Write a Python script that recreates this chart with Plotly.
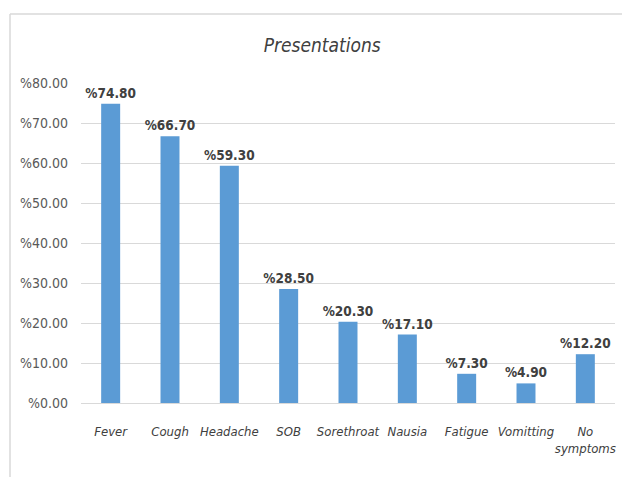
import plotly.graph_objects as go

categories = ["Fever", "Cough", "Headache", "SOB", "Sorethroat", "Nausia",
              "Fatigue", "Vomitting", "No<br>symptoms"]
values = [74.8, 66.7, 59.3, 28.5, 20.3, 17.1, 7.3, 4.9, 12.2]
tick_values = [0, 10, 20, 30, 40, 50, 60, 70, 80]

W, H = 622, 477
L, R, T, B = 81, 7, 83, 74
FONT = "DejaVu Sans Condensed, Liberation Sans Narrow, sans-serif"

fig = go.Figure(go.Bar(
    x=categories,
    y=values,
    marker=dict(color="#5B9BD5", line=dict(width=0)),
    text=[f"<b>%{v:.2f}</b>" for v in values],
    textposition="outside",
    constraintext="none",
    cliponaxis=False,
    textfont=dict(family=FONT, size=13.5, color="#404040"),
))

# outer chart frame (left and top edges visible)
pw = W - L - R
ph = H - T - B
x0 = (10 - L) / pw
y1 = 1 + (T - 14) / ph
fig.add_shape(type="line", xref="paper", yref="paper", x0=x0, x1=x0, y0=-2, y1=y1,
              line=dict(color="#d9d9d9", width=1.5))
fig.add_shape(type="line", xref="paper", yref="paper", x0=x0, x1=2, y0=y1, y1=y1,
              line=dict(color="#d9d9d9", width=1.5))

fig.update_layout(
    width=W, height=H,
    margin=dict(l=L, r=R, t=T, b=B),
    paper_bgcolor="white", plot_bgcolor="white",
    bargap=0.68,
    showlegend=False,
    title=dict(text="<i>Presentations</i>", x=0.518, xanchor="center",
               y=1 - 45 / H, yanchor="middle",
               font=dict(family=FONT, size=19, color="#404040")),
    xaxis=dict(
        tickfont=dict(family=FONT, size=13, color="#404040"),
        ticktext=[f"<i>{c}</i>" for c in categories],
        tickvals=categories,
        tickangle=0,
        showline=False, ticks="", showgrid=False,
        ticklabelstandoff=19,
    ),
    yaxis=dict(
        range=[0, 80],
        tickvals=tick_values,
        ticktext=[f"%{v:.2f}" for v in tick_values],
        tickfont=dict(family=FONT, size=14, color="#595959"),
        gridcolor="#d9d9d9", gridwidth=1,
        zeroline=True, zerolinecolor="#d9d9d9", zerolinewidth=1,
        showline=False, ticks="", ticklabelstandoff=12,
    ),
)

fig.write_html("out.html")
